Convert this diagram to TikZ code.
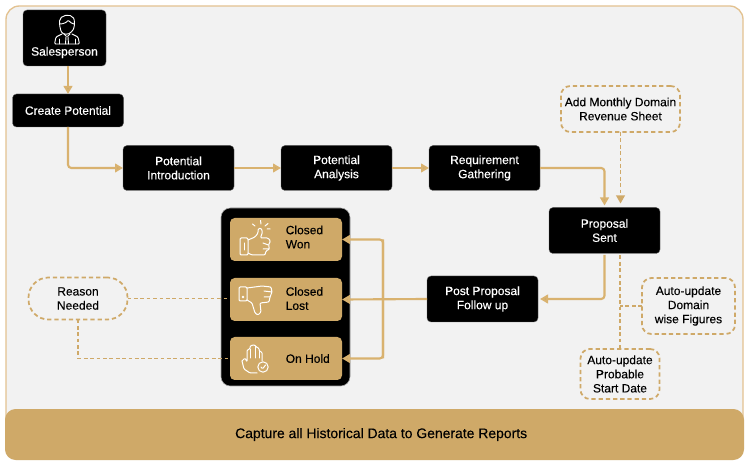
\documentclass[tikz,border=0pt]{standalone}
\usepackage{fontspec}
\setmainfont[FakeBold=0.12]{Liberation Sans}
\newfontfamily\medfont[FakeBold=0.35]{Liberation Sans}
\usetikzlibrary{arrows.meta,calc}
\definecolor{tan}{HTML}{CFA968}
\definecolor{tanline}{HTML}{D9B26F}
\definecolor{framec}{HTML}{E3C290}
\definecolor{panelbg}{HTML}{F2F2F2}
\tikzset{
  x=0.75pt,y=-0.75pt,
  sz/.style 2 args={minimum width=#1*0.75pt,minimum height=#2*0.75pt},
  blackbox/.style={fill=black,draw=black!60!white,line width=0.3pt,rounded corners=3pt,inner sep=0pt,outer sep=0pt,text=white,align=center,font=\medfont\fontsize{9}{10.6}\selectfont},
  statebox/.style={fill=tan,rounded corners=3.5pt,inner sep=0pt,outer sep=0pt},
  statetxt/.style={inner sep=0pt,align=left,anchor=west,text=black,font=\fontsize{9}{10.6}\selectfont},
  notebox/.style={draw=tan,line width=1.3pt,dash pattern=on 3.2pt off 2.2pt,rounded corners=7pt,inner sep=0pt,outer sep=0pt,align=center,text=black,font=\fontsize{9}{10.6}\selectfont},
  flow/.style={draw=tanline,line width=1.6pt,rounded corners=2.5pt,-{Triangle[width=6.5pt,length=6pt,fill=tan]}},
  dashflow/.style={draw=tan,line width=1.1pt,dash pattern=on 2.8pt off 2pt},
  dashheavy/.style={draw=tan,line width=1.3pt,dash pattern=on 2.8pt off 2pt},
  ico/.style={draw=white,line width=0.75pt,rounded corners=0.8pt,line join=round,line cap=round},
}
\begin{document}
\begin{tikzpicture}
\useasboundingbox (0,0) rectangle (750,470);
\fill[white] (0,0) rectangle (750,470);
% frame
\draw[draw=framec,fill=panelbg,line width=1pt,rounded corners=10pt] (6,6) rectangle (743,440);
% banner
\node[fill=tan,rounded corners=8pt,inner sep=0pt,outer sep=0pt,sz={739}{51},text=black,font=\fontsize{10.45}{12}\selectfont] (banner) at (374.5,434.5) {\hspace{10pt}Capture all Historical Data to Generate Reports};
% black boxes
\node[blackbox,sz={83}{56}] (sales) at (64.5,38) {};
\node[inner sep=0pt,text=white,font=\medfont\fontsize{9}{10.6}\selectfont] (salestxt) at (64.5,52.5) {Salesperson};
\node[blackbox,sz={111}{33}] (create) at (68,110.5) {Create Potential};
\node[blackbox,sz={111}{45}] (intro) at (178.5,168) {Potential\\Introduction};
\node[blackbox,sz={111}{45}] (analysis) at (336.5,168) {Potential\\Analysis};
\node[blackbox,sz={111}{45}] (req) at (484.5,168) {Requirement\\Gathering};
\node[blackbox,sz={111}{46}] (prop) at (604.5,230.5) {Proposal\\Sent};
\node[blackbox,sz={111}{46}] (post) at (482.5,299) {Post Proposal\\Follow up};
% panel
\node[fill=black,draw=black!35!white,line width=0.4pt,rounded corners=7pt,inner sep=0pt,outer sep=0pt,sz={129}{178}] (panel) at (285.5,297) {};
\node[statebox,sz={112}{43}] (won) at (286,239.5) {};
\node[statebox,sz={112}{43}] (lost) at (286,299.5) {};
\node[statebox,sz={112}{43}] (hold) at (286,358.5) {};
\node[statetxt] (wontxt) at (285.5,237) {Closed\\Won};
\node[statetxt] (losttxt) at (285.5,298.5) {Closed\\Lost};
\node[statetxt] (holdtxt) at (285.5,358.5) {On Hold};
% notes
\node[notebox,sz={119}{46}] (monthly) at (620.5,109) {Add Monthly Domain\\Revenue Sheet};
\node[notebox,sz={93}{56}] (domain) at (688.5,306) {Auto-update\\Domain\\wise Figures};
\node[notebox,sz={79}{50}] (probable) at (620,374) {Auto-update\\Probable\\Start Date};
\node[notebox,rounded corners=15pt,sz={99}{42}] (reason) at (78,298.5) {Reason\\Needed};
% connectors
\draw[flow] (sales.south -| create.south) -- (create.north);
\draw[flow] (create.south) |- (intro.west);
\draw[flow] (intro.east) -- (analysis.west);
\draw[flow] (analysis.east) -- (req.west);
\draw[flow] (req.east) -| ([yshift=1.5pt]prop.north);
\draw[flow] ([yshift=-1pt]prop.south) |- ([xshift=1.5pt]post.east);
\draw[flow] (post.west) -- (lost.east);
\coordinate (jwon) at ($(won.east)+(41,0)$);
\draw[flow] (jwon |- hold.east) -- (jwon) -- (won.east);
\draw[flow] (jwon) -- (jwon |- hold.east) -- (hold.east);
\draw[dashflow,-{Triangle[width=6.5pt,length=6pt,fill=tan]}] (monthly.south) -- ([yshift=3pt]monthly.south |- prop.north);
\draw[dashheavy] ([yshift=-1.5pt]probable.north |- prop.south) -- (probable.north);
\draw[dashflow] (domain.west) -- (domain.west -| probable.north);
\draw[dashflow] (reason.east) -- (reason.east -| lost.west);
\draw[dashheavy] (reason.south) |- (hold.west);
% person icon
\begin{scope}[ico,line width=0.7pt]
\draw (59.5,21) .. controls (59.5,15) and (71,13) .. (74,19) .. controls (75,24) and (74,29) .. (72,31) .. controls (69,35) and (63,35) .. (61,31) .. controls (60,28) and (59.5,25) .. (59.5,21);
\draw (60,24) .. controls (64,24) and (67,22) .. (68,20) .. controls (70,22) and (72,24) .. (74,24);
\draw (62,34) -- (56,37) -- (54.5,44) -- (79.5,44) -- (78,37) -- (72,34);
\draw (64,34) -- (67,37) -- (70,34);
\draw (66,37) -- (65.5,44) (68,37) -- (68.5,44);
\draw (59,39) -- (59,44) (75,39) -- (75,44);
\end{scope}
% thumbs up
\begin{scope}[ico]
\draw (240,238) rectangle (248,255);
\draw (244,243) -- (244,250);
\draw (248,240) -- (255,237) -- (258,233) -- (258,229) -- (261,228) -- (262.5,232) -- (260.5,238) -- (268,238) -- (270.5,241) -- (268.5,245) -- (269.5,249) -- (266,251) -- (265,255) -- (252,255) -- (248,253);
\draw (261,224) -- (260.5,220.5) (255,226) -- (252.5,224) (265,226) -- (268,223.5) (267,229) -- (270,229);
\draw (263,243) -- (268.5,245) (263,249) -- (269,249);
\end{scope}
% thumbs down
\begin{scope}[ico]
\draw (239,287) rectangle (247,301);
\fill[white] (243,297) circle (1.3);
\draw (247,288) -- (262,286) -- (271,287) -- (272,292) -- (270,297) -- (269,302) -- (260,303) -- (261,312) -- (258,315) -- (255,313) -- (252,303) -- (247,300);
\draw (264,291) -- (272,292) (264,297) -- (270,297);
\end{scope}
% hand icon
\begin{scope}[ico]
\draw (242,361) -- (245,358) -- (247,362) -- (247,350) -- (250,349) -- (250,346) -- (253,345) -- (255,345) -- (256,347) -- (259,348) -- (259,351) -- (262,352) -- (262,361);
\draw (250,349) -- (250,358) (255,346) -- (255,358) (259,350) -- (259,358);
\draw (242,361) -- (244,369) -- (250,373) -- (257,373);
\draw[fill=tan] (263,367) circle (5.2);
\draw (261,367) -- (262.5,369) -- (265.5,365);
\end{scope}
\end{tikzpicture}
\end{document}
